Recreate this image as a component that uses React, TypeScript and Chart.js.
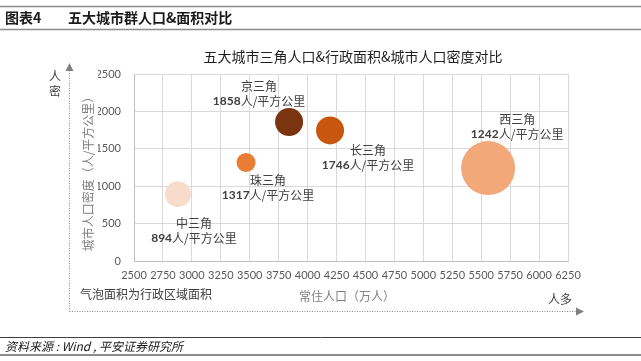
import React, { useEffect, useRef } from "react";
import { Chart, registerables } from "chart.js";

Chart.register(...registerables);

const cityNames = ["中三角", "珠三角", "京三角", "长三角", "西三角"];
const population = [2880, 3468, 3840, 4194, 5560];
const density = [894, 1317, 1858, 1746, 1242];
const bubbleRadius = [13, 9.5, 14, 14, 27];
const bubbleColors = ["#F8DCCB", "#EA7D33", "#7A3510", "#C9560F", "#F2A879"];
const xTicks = [2500, 2750, 3000, 3250, 3500, 3750, 4000, 4250, 4500, 4750, 5000, 5250, 5500, 5750, 6000, 6250];
const yTicks = [0, 500, 1000, 1500, 2000, 2500];

// label offsets (px) relative to bubble centre: [dx, dyFirstLine]
const labelOffsets: [number, number][] = [
  [16, 29],
  [22, 18],
  [-30, -36],
  [38, 20],
  [29, -49],
];

const CJK = "'Noto Sans CJK SC', sans-serif";
const NUM = "Lato, 'Noto Sans CJK SC', sans-serif";

export default function App() {
  const ref = useRef<HTMLCanvasElement>(null);
  useEffect(() => {
    if (!ref.current) return;
    const decor = {
      id: "decor",
      afterDatasetsDraw(chart: any) {
        const ctx = chart.ctx;
        const meta = chart.getDatasetMeta(0);
        ctx.save();
        meta.data.forEach((el: any, i: number) => {
          const [dx, dy] = labelOffsets[i];
          const x = el.x + dx;
          const y = el.y + dy;
          ctx.textAlign = "center";
          ctx.textBaseline = "middle";
          ctx.fillStyle = "#404040";
          ctx.font = `12px ${CJK}`;
          ctx.fillText(cityNames[i], x, y);
          const num = String(density[i]);
          const rest = "人/平方公里";
          ctx.font = `bold 12px ${NUM}`;
          const wn = ctx.measureText(num).width;
          ctx.font = `12px ${CJK}`;
          const wr = ctx.measureText(rest).width;
          const x0 = x - (wn + wr) / 2;
          ctx.textAlign = "left";
          ctx.font = `bold 12px ${NUM}`;
          ctx.fillText(num, x0, y + 15);
          ctx.font = `12px ${CJK}`;
          ctx.fillText(rest, x0 + wn, y + 15);
        });
        ctx.restore();
      },
      afterDraw(chart: any) {
        const ctx = chart.ctx;
        const area = chart.chartArea;
        ctx.save();
        // header
        ctx.fillStyle = "#1a1a1a";
        ctx.textBaseline = "middle";
        ctx.textAlign = "left";
        ctx.font = `bold 14px ${CJK}`;
        ctx.fillText("图表4", 5, 18);
        ctx.fillText("五大城市群人口&面积对比", 68, 18);
        ctx.strokeStyle = "#8c8c8c";
        ctx.lineWidth = 1.5;
        ctx.beginPath();
        ctx.moveTo(0, 6.5); ctx.lineTo(641, 6.5);
        ctx.moveTo(0, 29.5); ctx.lineTo(641, 29.5);
        ctx.stroke();
        // footer
        ctx.strokeStyle = "#404040";
        ctx.lineWidth = 1;
        ctx.beginPath();
        ctx.moveTo(0, 337.5); ctx.lineTo(641, 337.5);
        ctx.stroke();
        ctx.strokeStyle = "#8c8c8c";
        ctx.lineWidth = 2;
        ctx.beginPath();
        ctx.moveTo(0, 355); ctx.lineTo(641, 355);
        ctx.stroke();
        ctx.fillStyle = "#1a1a1a";
        ctx.font = `italic 12px ${CJK}`;
        ctx.fillText("资料来源 : Wind , 平安证券研究所", 5, 346);
        // chart title
        ctx.textAlign = "center";
        ctx.fillStyle = "#1f1f1f";
        ctx.font = `14px ${CJK}`;
        ctx.fillText("五大城市三角人口&行政面积&城市人口密度对比", (area.left + area.right) / 2 + 2, 57);
        // axis titles
        ctx.fillStyle = "#808080";
        ctx.font = `12px ${CJK}`;
        ctx.fillText("常住人口（万人）", (area.left + area.right) / 2 - 4, 296);
        ctx.textAlign = "left";
        ctx.fillStyle = "#404040";
        ctx.fillText("气泡面积为行政区域面积", 80, 294);
        ctx.fillText("人多", 548, 299);
        ctx.textAlign = "center";
        ctx.fillText("人", 55, 76);
        ctx.fillText("密", 55, 91);
        ctx.save();
        ctx.translate(88, 171);
        ctx.rotate(-Math.PI / 2);
        ctx.fillStyle = "#808080";
        ctx.fillText("城市人口密度（人/平方公里）", 0, 0);
        ctx.restore();
        // arrows
        ctx.strokeStyle = "#8c8c8c";
        ctx.lineWidth = 1;
        ctx.setLineDash([1, 1.5]);
        ctx.beginPath();
        ctx.moveTo(69.5, 311.5); ctx.lineTo(69.5, 70);
        ctx.moveTo(69.5, 311.5); ctx.lineTo(576, 311.5);
        ctx.stroke();
        ctx.setLineDash([]);
        ctx.fillStyle = "#808080";
        ctx.beginPath();
        ctx.moveTo(69.5, 63); ctx.lineTo(65.5, 71); ctx.lineTo(73.5, 71); ctx.closePath();
        ctx.fill();
        ctx.beginPath();
        ctx.moveTo(584, 311.5); ctx.lineTo(576, 307.5); ctx.lineTo(576, 315.5); ctx.closePath();
        ctx.fill();
        ctx.restore();
      },
    };

    const chart = new Chart(ref.current, {
      type: "bubble",
      data: {
        datasets: [
          {
            data: population.map((p, i) => ({ x: p, y: density[i], r: bubbleRadius[i] })),
            backgroundColor: bubbleColors,
            borderColor: bubbleColors,
            borderWidth: 0,
          },
        ],
      },
      options: {
        responsive: false,
        animation: false,
        layout: { padding: { left: 98, right: 73, top: 74, bottom: 80 } },
        plugins: { legend: { display: false }, tooltip: { enabled: false } },
        scales: {
          x: {
            type: "linear",
            min: 2500,
            max: 6250,
            afterBuildTicks: (s: any) => { s.ticks = xTicks.map((v) => ({ value: v })); },
            afterFit: (s: any) => { s.height = 20; },
            grid: { color: "#d9d9d9", drawTicks: false },
            border: { color: "#bfbfbf" },
            ticks: { padding: 8, color: "#595959", font: { family: NUM, size: 11 }, maxRotation: 0, autoSkip: false, callback: (v: any) => String(v) },
          },
          y: {
            type: "linear",
            min: 0,
            max: 2500,
            afterBuildTicks: (s: any) => { s.ticks = yTicks.map((v) => ({ value: v })); },
            afterFit: (s: any) => { s.width = 36; },
            grid: { color: "#d9d9d9", drawTicks: false },
            border: { color: "#bfbfbf" },
            ticks: { padding: 13, color: "#595959", font: { family: NUM, size: 11 }, callback: (v: any) => String(v) },
          },
        },
      },
      plugins: [decor],
    } as any);
    return () => chart.destroy();
  }, []);
  return (
    <div style={{ position: "absolute", left: 0, top: 0, width: 641, height: 361, background: "#fff" }}>
      <canvas ref={ref} width={641} height={361} />
    </div>
  );
}
